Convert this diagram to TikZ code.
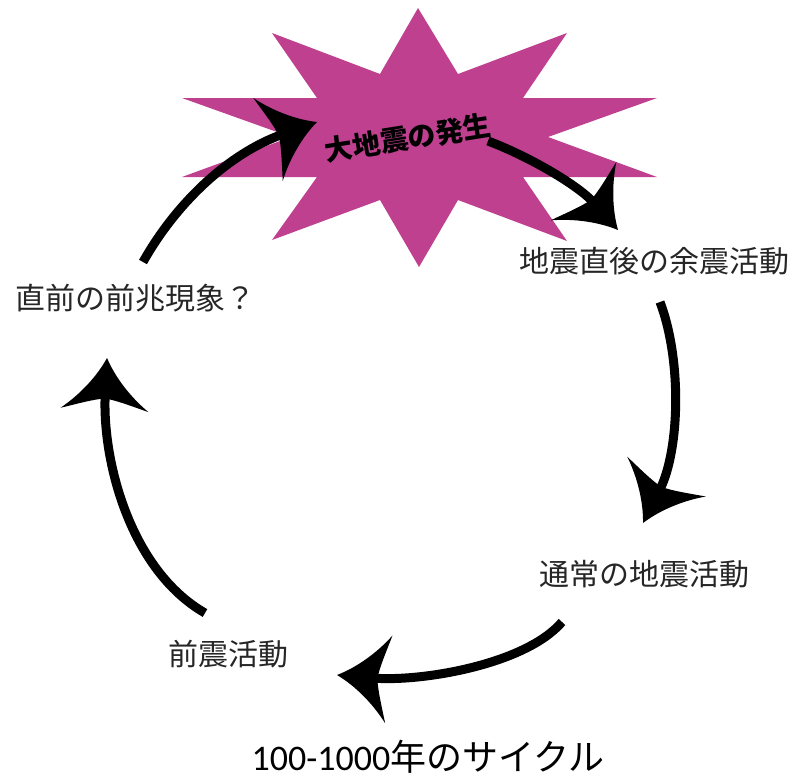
\documentclass[tikz,border=0pt]{standalone}
\usepackage{fontspec}
\setmainfont{Carlito}
\newfontfamily\jp{Noto Sans CJK JP}
\usetikzlibrary{arrows.meta}
\definecolor{starc}{RGB}{191,64,143}

\pgfdeclarearrow{
  name = Swoosh,
  defaults = {length = 52pt, width = 88pt},
  parameters = {\the\pgfarrowlength,\the\pgfarrowwidth},
  setup code = {
    \pgfarrowssettipend{0pt}
    \pgfarrowssetlineend{-.7\pgfarrowlength}
    \pgfarrowssetbackend{-\pgfarrowlength}
    \pgfarrowshullpoint{0pt}{0pt}
    \pgfarrowsupperhullpoint{-\pgfarrowlength}{.5\pgfarrowwidth}
    \pgfarrowssavethe\pgfarrowlength
    \pgfarrowssavethe\pgfarrowwidth
  },
  drawing code = {
    \pgfpathmoveto{\pgfpointorigin}
    \pgfpathcurveto{\pgfpoint{-.35\pgfarrowlength}{.1\pgfarrowwidth}}{\pgfpoint{-.72\pgfarrowlength}{.28\pgfarrowwidth}}{\pgfpoint{-\pgfarrowlength}{.5\pgfarrowwidth}}
    \pgfpathcurveto{\pgfpoint{-.9\pgfarrowlength}{.3\pgfarrowwidth}}{\pgfpoint{-.8\pgfarrowlength}{.12\pgfarrowwidth}}{\pgfpoint{-.78\pgfarrowlength}{0pt}}
    \pgfpathcurveto{\pgfpoint{-.8\pgfarrowlength}{-.12\pgfarrowwidth}}{\pgfpoint{-.9\pgfarrowlength}{-.3\pgfarrowwidth}}{\pgfpoint{-\pgfarrowlength}{-.5\pgfarrowwidth}}
    \pgfpathcurveto{\pgfpoint{-.72\pgfarrowlength}{-.28\pgfarrowwidth}}{\pgfpoint{-.35\pgfarrowlength}{-.1\pgfarrowwidth}}{\pgfpointorigin}
    \pgfpathclose
    \pgfusepathqfill
  }
}

\begin{document}
\begin{tikzpicture}[x=1pt,y=-1pt,
  lbl/.style={font=\jp\fontsize{30}{36}\selectfont, inner sep=0pt, text=black!85},
  titlelbl/.style={font=\jp\bfseries\fontsize{28}{34}\selectfont, inner sep=0pt, text=black},
  cyc/.style={line width=9pt, -{Swoosh}},
  burst/.style={fill=starc}]
\useasboundingbox (0,0) rectangle (807,780);

% explosion star
\fill[burst] (418,8) -- (458,74) -- (567,33) -- (523,98) -- (657,98) -- (548,137)
  -- (657,177) -- (523,177) -- (567,241) -- (458,200) -- (419,267) -- (380,200)
  -- (272,240) -- (317,177) -- (182,177) -- (291,137) -- (182,98) -- (317,98)
  -- (272,33) -- (380,74) -- cycle;

\node[titlelbl, rotate=9] (quake) at (408,138) {大地震の発生};
\node[lbl] (after)  at (654,261) {地震直後の余震活動};
\node[lbl] (normal) at (644,574) {通常の地震活動};
\node[lbl] (fore)   at (228,654) {前震活動};
\node[lbl] (pre)    at (136,298) {直前の前兆現象？};
\node[anchor=base, inner sep=0pt, font=\fontsize{36}{42}\selectfont] (cyclelbl) at (428,770) {100-1000{\jp 年のサイクル}};

\coordinate (a1s) at (143,262); \coordinate (a1e) at (317,122);
\coordinate (a2s) at (488,141); \coordinate (a2e) at (618,230);
\coordinate (a3s) at (660,302); \coordinate (a3e) at (643,523);
\coordinate (a4s) at (562,622); \coordinate (a4e) at (337,675);
\coordinate (a5s) at (205,613); \coordinate (a5e) at (107,358);

\draw[cyc] (a1s) .. controls (175,205) and (227,154) .. (a1e);
\draw[cyc] (a2s) .. controls (528,156) and (578,185) .. (a2e);
\draw[cyc] (a3s) .. controls (682,360) and (680,450) .. (a3e);
\draw[cyc] (a4s) .. controls (525,665) and (420,682) .. (a4e);
\draw[cyc] (a5s) .. controls (130,570) and (102,460) .. (a5e);
\end{tikzpicture}
\end{document}
